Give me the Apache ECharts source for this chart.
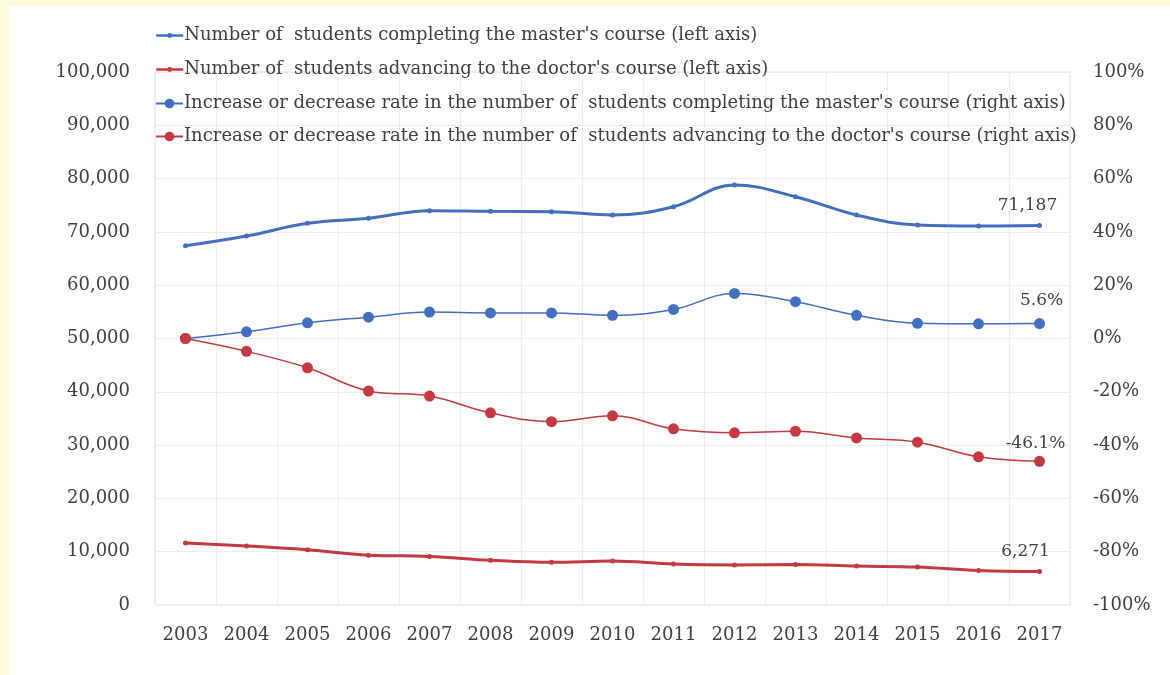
<!DOCTYPE html>
<html>
<head>
<meta charset="utf-8">
<script src="https://cdn.jsdelivr.net/npm/echarts@6/dist/echarts.min.js"></script>
<style>
  html, body { margin: 0; padding: 0; background: #FFF9DE; width: 1170px; height: 675px; overflow: hidden; }
  #chart { position: absolute; left: 9px; top: 6px; width: 1161px; height: 669px; background: #ffffff; }
</style>
</head>
<body>
<div id="chart"></div>
<script>
// Graduate school flows, 2003–2017
const years = ['2003', '2004', '2005', '2006', '2007', '2008', '2009', '2010',
               '2011', '2012', '2013', '2014', '2015', '2016', '2017'];

// Number of students completing the master's course
const masterCompleted = [67412, 69230, 71610, 72550, 73980, 73860, 73800, 73170,
                         74730, 78800, 76600, 73170, 71290, 71100, 71187];

// Number of students advancing to the doctor's course
const doctorAdvancing = [11635, 11080, 10350, 9340, 9120, 8390, 8000, 8260,
                         7690, 7520, 7590, 7300, 7110, 6470, 6271];

// Change vs. 2003, in percent
const masterRate = [0, 2.5, 5.9, 8.0, 9.9, 9.6, 9.6, 8.7, 10.9, 16.9, 13.8, 8.7, 5.7, 5.5, 5.6];
const doctorRate = [0, -4.8, -11.0, -19.7, -21.6, -27.9, -31.2, -29.0, -33.9, -35.4, -34.8,
                    -37.3, -38.9, -44.4, -46.1];

const leftTicks = { min: 0, max: 100000, interval: 10000 };
const rightTicks = { min: -100, max: 100, interval: 20 };

const seriesNames = [
  "Number of  students completing the master's course (left axis)",
  "Number of  students advancing to the doctor's course (left axis)",
  "Increase or decrease rate in the number of  students completing the master's course (right axis)",
  "Increase or decrease rate in the number of  students advancing to the doctor's course (right axis)"
];

const BLUE = '#4270BE';
const RED = '#C43A40';
const FONT = '"DejaVu Serif", "Liberation Serif", serif';
const TEXT = '#404040';
const FS = 18;

const fmtThousands = v => Math.round(v).toLocaleString('en-US');

// label only the final year of each series
function lastLabel(formatter, offset) {
  return {
    show: true,
    position: 'top',
    distance: 9,
    offset: offset,
    fontFamily: FONT,
    fontSize: 17,
    color: TEXT,
    formatter: p => (p.dataIndex === years.length - 1 ? formatter(p.value) : '')
  };
}

const legendText = { fontFamily: FONT, fontSize: 18, color: TEXT, lineHeight: 21, padding: [0, 0, 0, -4] };

const chart = echarts.init(document.getElementById('chart'), null, { renderer: 'canvas' });

chart.setOption({
  animation: false,
  backgroundColor: '#ffffff',
  textStyle: { fontFamily: FONT },
  legend: [
    {
      // counts: thick line, small marker
      orient: 'vertical',
      left: 141,
      top: 14,
      itemWidth: 27,
      itemHeight: 6,
      itemGap: 13,
      textStyle: legendText,
      lineStyle: { width: 2.5 },
      data: seriesNames.slice(0, 2)
    },
    {
      // rates: thin line, large marker
      orient: 'vertical',
      left: 141,
      top: 82,
      itemWidth: 27,
      itemHeight: 12,
      itemGap: 12,
      textStyle: legendText,
      data: seriesNames.slice(2)
    }
  ],
  grid: {
    left: 146,
    right: 100,
    top: 66,
    bottom: 70,
    show: true,
    borderColor: '#e2e2e2',
    borderWidth: 1
  },
  xAxis: {
    type: 'category',
    data: years,
    boundaryGap: true,
    axisLine: { show: false },
    axisTick: { show: false },
    splitLine: { show: true, interval: 0, lineStyle: { color: '#ececec', width: 1 } },
    axisLabel: { fontFamily: FONT, fontSize: FS, color: TEXT, margin: 21, interval: 0 }
  },
  yAxis: [
    {
      type: 'value',
      position: 'left',
      min: leftTicks.min,
      max: leftTicks.max,
      interval: leftTicks.interval,
      axisLine: { show: false },
      axisTick: { show: false },
      splitLine: { show: true, lineStyle: { color: '#ececec', width: 1 } },
      axisLabel: { fontFamily: FONT, fontSize: FS, color: TEXT, margin: 25, formatter: v => fmtThousands(v) }
    },
    {
      type: 'value',
      position: 'right',
      min: rightTicks.min,
      max: rightTicks.max,
      interval: rightTicks.interval,
      axisLine: { show: false },
      axisTick: { show: false },
      splitLine: { show: false },
      axisLabel: { fontFamily: FONT, fontSize: FS, color: TEXT, margin: 23, formatter: v => v + '%' }
    }
  ],
  series: [
    {
      name: seriesNames[0],
      type: 'line',
      yAxisIndex: 0,
      data: masterCompleted,
      smooth: 0.4,
      symbol: 'circle',
      symbolSize: 5,
      lineStyle: { color: BLUE, width: 3 },
      itemStyle: { color: BLUE },
      label: lastLabel(fmtThousands, [-12, 0]),
      z: 4
    },
    {
      name: seriesNames[1],
      type: 'line',
      yAxisIndex: 0,
      data: doctorAdvancing,
      smooth: 0.4,
      symbol: 'circle',
      symbolSize: 5,
      lineStyle: { color: RED, width: 3 },
      itemStyle: { color: RED },
      label: lastLabel(fmtThousands, [-14, 0]),
      z: 4
    },
    {
      name: seriesNames[2],
      type: 'line',
      yAxisIndex: 1,
      data: masterRate,
      smooth: 0.4,
      symbol: 'circle',
      symbolSize: 11,
      lineStyle: { color: BLUE, width: 1.5 },
      itemStyle: { color: BLUE },
      label: lastLabel(v => v.toFixed(1) + '%', [2, 0]),
      z: 3
    },
    {
      name: seriesNames[3],
      type: 'line',
      yAxisIndex: 1,
      data: doctorRate,
      smooth: 0.4,
      symbol: 'circle',
      symbolSize: 11,
      lineStyle: { color: RED, width: 1.5 },
      itemStyle: { color: RED },
      label: lastLabel(v => v.toFixed(1) + '%', [-4, 5]),
      z: 3
    }
  ]
});
</script>
</body>
</html>
